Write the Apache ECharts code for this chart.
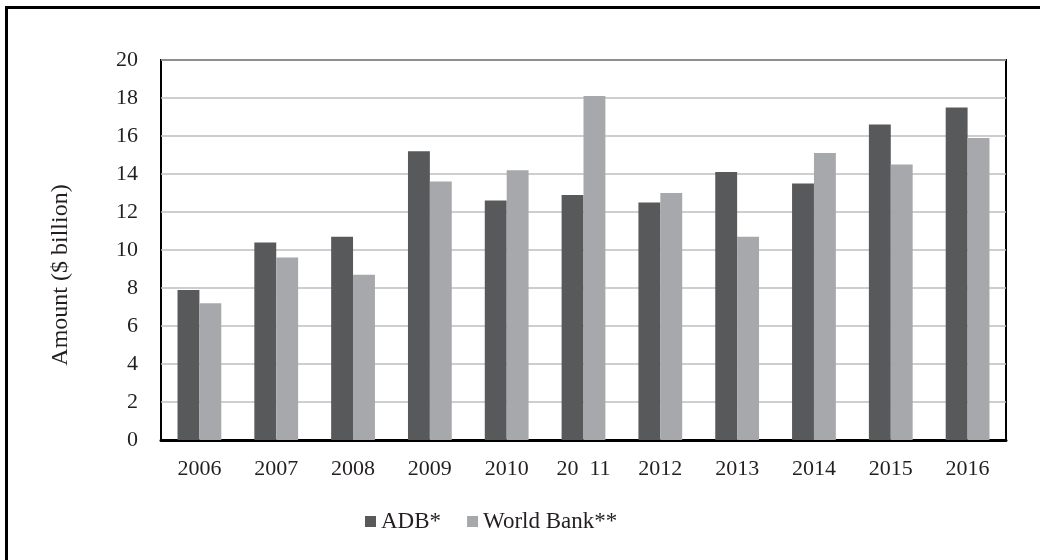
<!DOCTYPE html>
<html>
<head>
<meta charset="utf-8">
<script src="https://cdn.jsdelivr.net/npm/echarts@6/dist/echarts.min.js"></script>
<style>
html,body{margin:0;padding:0;background:#fff;}
#chart{width:1040px;height:560px;}
</style>
</head>
<body>
<div id="chart"></div>
<script>
const categories = ['2006','2007','2008','2009','2010','20  11','2012','2013','2014','2015','2016'];
const adbValues = [7.9, 10.4, 10.7, 15.2, 12.6, 12.9, 12.5, 14.1, 13.5, 16.6, 17.5];
const worldBankValues = [7.2, 9.6, 8.7, 13.6, 14.2, 18.1, 13.0, 10.7, 15.1, 14.5, 15.9];
const seriesNames = ['ADB*', 'World Bank**'];
const yAxisTitle = 'Amount ($ billion)';

const FONT = '"Liberation Serif", "DejaVu Serif", serif';
const TEXT = '#231f20';

const chart = echarts.init(document.getElementById('chart'), null, {renderer: 'canvas'});
chart.setOption({
  animation: false,
  backgroundColor: '#ffffff',
  textStyle: {fontFamily: FONT, color: TEXT},
  grid: {left: 161, right: 34, top: 60, bottom: 120, show: true, borderColor: '#000', borderWidth: 2, backgroundColor: 'transparent'},
  legend: {
    left: 360, top: 505,
    itemWidth: 11, itemHeight: 11, itemGap: 26,
    icon: 'rect',
    textStyle: {fontFamily: FONT, fontSize: 23, color: TEXT},
    data: seriesNames
  },
  xAxis: {
    type: 'category',
    data: categories,
    axisLine: {show: true, lineStyle: {color: '#000', width: 3}},
    axisTick: {show: false},
    axisLabel: {fontFamily: FONT, fontSize: 22, color: TEXT, margin: 18}
  },
  yAxis: {
    type: 'value',
    min: 0, max: 20, interval: 2,
    axisLine: {show: false},
    axisTick: {show: false},
    splitLine: {show: true, lineStyle: {color: '#bebebe', width: 1.5}},
    axisLabel: {fontFamily: FONT, fontSize: 22, color: TEXT, margin: 23}
  },
  graphic: [
    {
      type: 'polyline',
      shape: {points: [[6.5, 565], [6.5, 7.5], [1045, 7.5]]},
      style: {stroke: '#000', lineWidth: 3, fill: null}
    },
    {
      type: 'text',
      x: 61, y: 275,
      rotation: Math.PI / 2,
      style: {text: yAxisTitle, font: '24px ' + FONT, fill: TEXT, textAlign: 'center', textVerticalAlign: 'middle'}
    }
  ],
  series: [
    {
      name: seriesNames[0], type: 'bar', data: adbValues,
      barGap: '0%', barCategoryGap: '43%',
      itemStyle: {color: '#58595b'}
    },
    {
      name: seriesNames[1], type: 'bar', data: worldBankValues,
      barGap: '0%', barCategoryGap: '43%',
      itemStyle: {color: '#a7a8ab'}
    }
  ]
});
</script>
</body>
</html>
